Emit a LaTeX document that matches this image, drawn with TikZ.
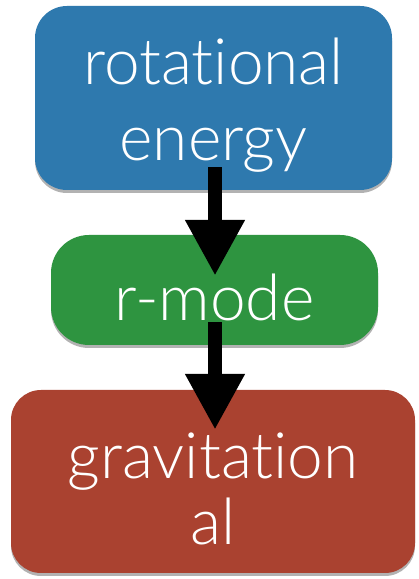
\documentclass[tikz,border=0pt]{standalone}
\usepackage{fontspec}
\setmainfont{Lato}[UprightFont=* Light, Ligatures=CommonOff]
\usetikzlibrary{arrows.meta,shadows}
\definecolor{boxblue}{RGB}{46,121,174}
\definecolor{boxgreen}{RGB}{46,148,64}
\definecolor{boxred}{RGB}{170,66,48}
\tikzset{
  box/.style={inner sep=0pt,
    drop shadow={opacity=0.3, shadow xshift=0pt, shadow yshift=-3pt, fill=black}},
  boxtext/.style={inner sep=0pt, text=white, align=center,
    font=\fontsize{64}{76}\selectfont},
  flow/.style={line width=14pt, draw=black, -{Triangle[length=56pt,width=56pt]}}
}
\begin{document}
\begin{tikzpicture}[x=1pt,y=1pt]
\useasboundingbox (0,0) rectangle (419,579);
\fill[white] (0,0) rectangle (419,579);
\node[box, fill=boxblue, rounded corners=32pt, minimum width=357pt, minimum height=184pt] (rot) at (213.5,481) {};
\node[box, fill=boxgreen, rounded corners=38pt, minimum width=327pt, minimum height=110pt] (rmode) at (214.5,289) {};
\node[box, fill=boxred, rounded corners=30pt, minimum width=404pt, minimum height=183pt] (grav) at (213,97.5) {};
\node[boxtext] (rottext) at ([yshift=-7pt]rot.center) {rotational\\energy};
\node[boxtext] (rmodetext) at ([yshift=-7pt]rmode.center) {r-mode};
\node[boxtext, font=\fontsize{64}{66}\selectfont] (gravtext) at ([yshift=-7pt]grav.center) {gravitation\\al};
\draw[flow] ([xshift=1.5pt,yshift=23pt]rot.south) -- ([xshift=0.5pt,yshift=-41pt]rmode.north);
\draw[flow] ([xshift=0.5pt,yshift=23pt]rmode.south) -- ([xshift=2pt,yshift=-40pt]grav.north);
\end{tikzpicture}
\end{document}
